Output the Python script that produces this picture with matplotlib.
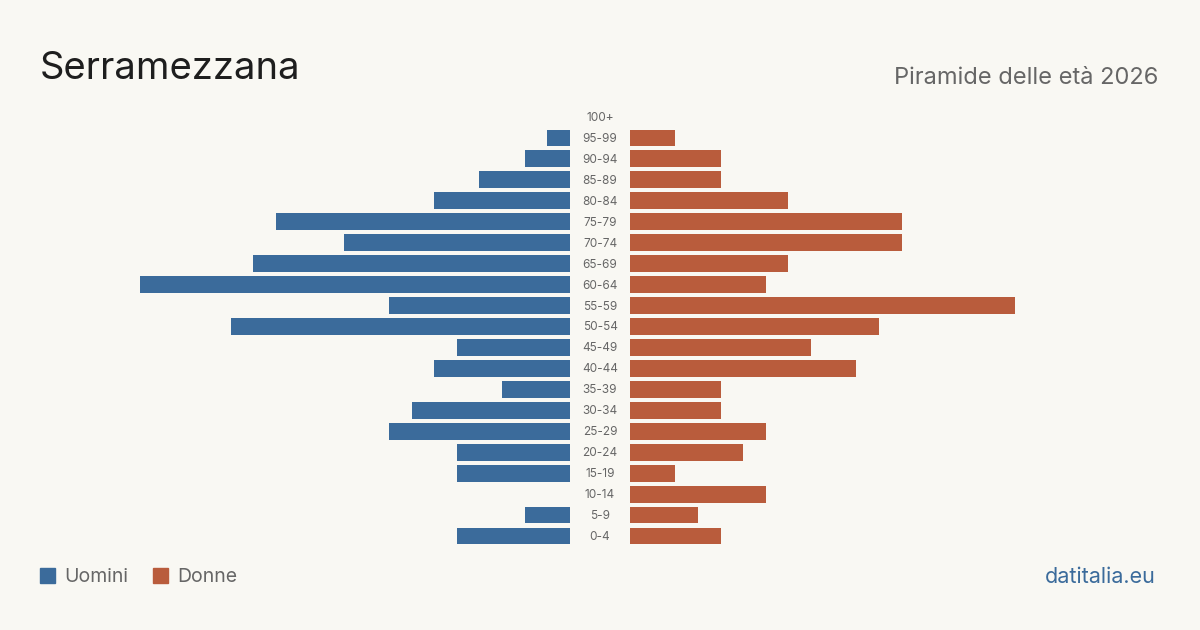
import matplotlib.pyplot as plt

# data
ages = ['0-4', '5-9', '10-14', '15-19', '20-24', '25-29', '30-34', '35-39',
        '40-44', '45-49', '50-54', '55-59', '60-64', '65-69', '70-74',
        '75-79', '80-84', '85-89', '90-94', '95-99', '100+']
men = [5, 2, 0, 5, 5, 8, 7, 3, 6, 5, 15, 8, 19, 14, 10, 13, 6, 4, 2, 1, 0]
women = [4, 3, 6, 2, 5, 6, 4, 4, 10, 8, 11, 17, 6, 7, 12, 12, 7, 4, 4, 2, 0]

bg = '#f9f8f3'
blue = '#3b6b9b'
orange = '#b95c3c'
plt.rcParams['font.family'] = ['Inter', 'DejaVu Sans']

W, H = 1200, 630
fig = plt.figure(figsize=(12, 6.3), dpi=100, facecolor=bg)

# pixel layout: 22.63 px per person, rows 21 px apart
unit = 22.63
span = 470
top, bottom = 106.5, 546.5
xmax = span / unit
ax_l = fig.add_axes([(570 - span) / W, 1 - bottom / H, span / W, (bottom - top) / H])
ax_r = fig.add_axes([630 / W, 1 - bottom / H, span / W, (bottom - top) / H])

y = list(range(len(ages)))
ax_l.barh(y, men, height=0.8, color=blue)
ax_r.barh(y, women, height=0.8, color=orange)
ax_l.set_xlim(xmax, 0)
ax_r.set_xlim(0, xmax)
for ax in (ax_l, ax_r):
    ax.set_ylim(-0.5, len(ages) - 0.5)
    ax.axis('off')

for i, a in enumerate(ages):
    fig.text(600 / W, 1 - (537 - i * 20.95) / H, a, ha='center', va='center',
             fontsize=8.5, color='#666666')

fig.text(40 / W, 1 - 79 / H, 'Serramezzana', fontsize=27.5, color='#1e1e1e',
         va='baseline')
fig.text(1158 / W, 1 - 84 / H, 'Piramide delle età 2026', fontsize=17,
         color='#666666', ha='right', va='baseline')

# legend
fig.patches.append(plt.Rectangle((40 / W, 1 - 583 / H), 15 / W, 15 / H,
                                 color=blue, transform=fig.transFigure))
fig.text(64 / W, 1 - 577 / H, 'Uomini', fontsize=14, color='#666666', va='center')
fig.patches.append(plt.Rectangle((153 / W, 1 - 583 / H), 15 / W, 15 / H,
                                 color=orange, transform=fig.transFigure))
fig.text(177 / W, 1 - 577 / H, 'Donne', fontsize=14, color='#666666', va='center')
fig.text(1156 / W, 1 - 577 / H, 'datitalia.eu', fontsize=15.5, color=blue,
         ha='right', va='center')

fig.savefig('out.png', facecolor=bg)
